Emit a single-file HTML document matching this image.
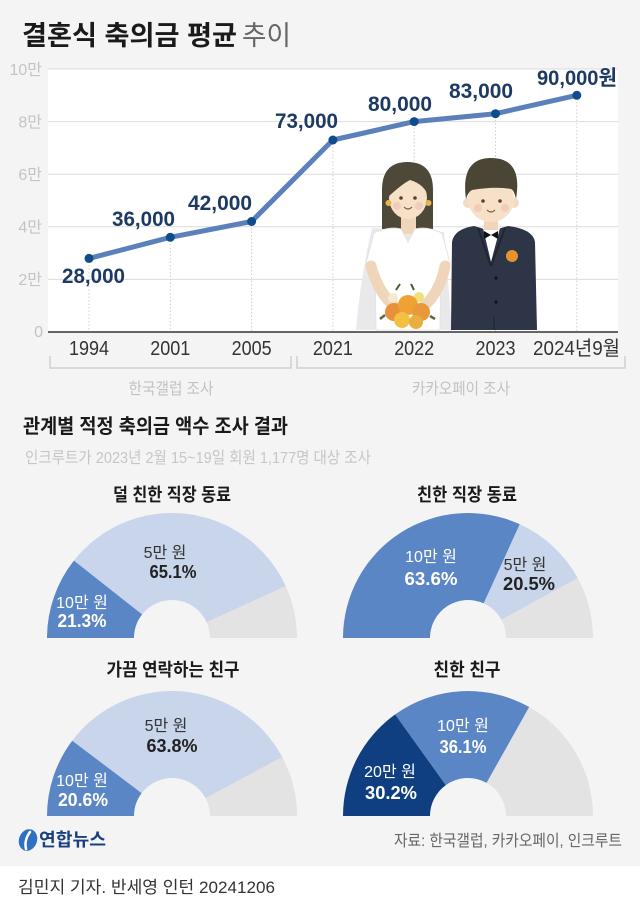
<!DOCTYPE html>
<html>
<head>
<meta charset="utf-8">
<style>
html,body{margin:0;padding:0;background:#f4f4f4;}
svg{display:block;}
text{font-family:"Liberation Sans","Noto Sans CJK KR",sans-serif;}
</style>
</head>
<body>
<svg width="640" height="906" viewBox="0 0 640 906" xmlns="http://www.w3.org/2000/svg">
<rect width="640" height="906" fill="#f4f4f4"/>
<rect x="0" y="866" width="640" height="40" fill="#ffffff"/>

<!-- Title -->
<text x="22" y="45" font-size="27" font-weight="bold" fill="#1a1a1a" textLength="215" lengthAdjust="spacingAndGlyphs">결혼식 축의금 평균</text>
<text x="242" y="45" font-size="27" fill="#666" textLength="49" lengthAdjust="spacingAndGlyphs">추이</text>

<!-- plot area -->
<rect x="48" y="69" width="570" height="263" fill="#ffffff"/>
<g stroke="#dcdcdc" stroke-width="1">
<line x1="48" y1="69" x2="618" y2="69"/>
<line x1="48" y1="121.6" x2="618" y2="121.6"/>
<line x1="48" y1="174.2" x2="618" y2="174.2"/>
<line x1="48" y1="226.8" x2="618" y2="226.8"/>
<line x1="48" y1="279.4" x2="618" y2="279.4"/>
</g>
<g font-size="16" fill="#c4c4c4" text-anchor="end">
<text x="42" y="75">10만</text>
<text x="42" y="127.5">8만</text>
<text x="42" y="180">6만</text>
<text x="42" y="232.5">4만</text>
<text x="42" y="285">2만</text>
<text x="43" y="337">0</text>
</g>
<!-- dotted verticals -->
<g stroke="#cfcfcf" stroke-width="1" stroke-dasharray="1.5 2">
<line x1="89" y1="258" x2="89" y2="332"/>
<line x1="170.3" y1="237" x2="170.3" y2="332"/>
<line x1="251.6" y1="221" x2="251.6" y2="332"/>
<line x1="332.9" y1="140" x2="332.9" y2="332"/>
<line x1="414.2" y1="121" x2="414.2" y2="332"/>
<line x1="495.5" y1="113" x2="495.5" y2="332"/>
<line x1="576.8" y1="95" x2="576.8" y2="332"/>
</g>

<!-- Illustration -->
<g>
<!-- bride veil -->
<path d="M372,228 Q360,280 356,330 L452,330 Q448,280 444,232 Z" fill="#e9e9ec"/>
<!-- bride hair back -->
<path d="M382,229 L382,190 Q382,162 407.5,162 Q433,162 433,190 L433,229 Z" fill="#4d4838"/>
<!-- neck -->
<rect x="401" y="212" width="15" height="22" fill="#efd6bb"/>
<!-- face -->
<ellipse cx="408" cy="198" rx="19" ry="21" fill="#f6e1c8"/>
<path d="M388,197 Q388,172 408,172 Q428,172 429,197 Q424,184 410,180 Q402,184 388,197 Z" fill="#4d4838"/>
<circle cx="388.5" cy="203" r="3" fill="#e6b64a"/>
<circle cx="428.5" cy="203" r="3" fill="#e6b64a"/>
<circle cx="401" cy="198" r="1.8" fill="#5a4030"/>
<circle cx="415" cy="198" r="1.8" fill="#5a4030"/>
<circle cx="397" cy="206" r="4" fill="#f1c6b6" opacity="0.8"/>
<circle cx="419" cy="206" r="4" fill="#f1c6b6" opacity="0.8"/>
<path d="M404,207 Q408,211 412,207" stroke="#8a5a40" stroke-width="1.2" fill="none"/>
<!-- dress -->
<path d="M374,233 Q390,226 401,229 L408,242 L415,229 Q427,226 442,233 L450,263 L441,272 L440,330 L376,330 L375,272 L366,263 Z" fill="#ffffff" stroke="#e4e4e4" stroke-width="1"/>
<!-- arms -->
<path d="M371,266 Q378,292 394,306" stroke="#efd6bb" stroke-width="11" stroke-linecap="round" fill="none"/>
<path d="M445,266 Q440,292 424,306" stroke="#efd6bb" stroke-width="11" stroke-linecap="round" fill="none"/>
<!-- bouquet -->
<circle cx="393" cy="298" r="5" fill="#f4ead0"/>
<circle cx="419" cy="297" r="5" fill="#efe07a"/>
<path d="M396,290 l4,-6 M414,290 l-3,-6" stroke="#4a5a3a" stroke-width="2"/>
<circle cx="394" cy="312" r="9" fill="#e8903a"/>
<circle cx="408" cy="305" r="10" fill="#efa233"/>
<circle cx="421" cy="312" r="9" fill="#e89a3a"/>
<circle cx="402" cy="320" r="8" fill="#f3c142"/>
<circle cx="416" cy="322" r="7" fill="#e8ae3e"/>
<path d="M385,315 l-5,4 M430,316 l5,3" stroke="#5a6a40" stroke-width="2.5"/>

<!-- groom suit -->
<path d="M452,242 Q454,229 474,226 L491,231 L508,226 Q533,229 535,242 L537,330 L451,330 Z" fill="#2e3547"/>
<path d="M483,228 L491,262 L500,228 Z" fill="#ffffff"/>
<path d="M478,228 L491,266 M505,228 L491,266" stroke="#1f2533" stroke-width="2" fill="none"/>
<path d="M484,231 L491,235 L484,239 Z M498,231 L491,235 L498,239 Z" fill="#111"/>
<circle cx="512" cy="256" r="6" fill="#e8922e"/>
<circle cx="496" cy="278" r="1.5" fill="#111"/>
<circle cx="496" cy="302" r="1.5" fill="#111"/>
<line x1="494" y1="316" x2="494" y2="330" stroke="#222a38" stroke-width="1.5"/>
<!-- groom neck/face -->
<rect x="484" y="214" width="14" height="16" fill="#efd6bb"/>
<circle cx="468" cy="203" r="5" fill="#f3dcc2"/>
<circle cx="514" cy="203" r="5" fill="#f3dcc2"/>
<ellipse cx="491" cy="199" rx="23" ry="23" fill="#f6e1c8"/>
<path d="M466,199 C462,170 472,158 491,158 C511,158 521,170 516,199 Q514,190 511,189 Q495,186 472,190 Q468,192 466,199 Z" fill="#4a4535"/>
<circle cx="483" cy="201" r="1.8" fill="#5a4030"/>
<circle cx="500" cy="201" r="1.8" fill="#5a4030"/>
<circle cx="478" cy="208" r="4" fill="#f1c6b6" opacity="0.8"/>
<circle cx="505" cy="208" r="4" fill="#f1c6b6" opacity="0.8"/>
<path d="M487,210 Q491,214 495,210" stroke="#8a5a40" stroke-width="1.2" fill="none"/>
</g>

<!-- baseline -->
<line x1="48" y1="332" x2="618" y2="332" stroke="#333" stroke-width="1.5"/>

<!-- line series -->
<polyline points="89,258.4 170.3,237.3 251.6,221.5 332.9,140 414.2,121.6 495.5,113.7 576.8,95.3" fill="none" stroke="#5c80b9" stroke-width="5" stroke-linejoin="round" stroke-linecap="round"/>
<g fill="#0e4c8c">
<circle cx="89" cy="258.4" r="4.5"/>
<circle cx="170.3" cy="237.3" r="4.5"/>
<circle cx="251.6" cy="221.5" r="4.5"/>
<circle cx="332.9" cy="140" r="4.5"/>
<circle cx="414.2" cy="121.6" r="4.5"/>
<circle cx="495.5" cy="113.7" r="4.5"/>
<circle cx="576.8" cy="95.3" r="4.5"/>
</g>
<g font-size="21" font-weight="bold" fill="#1d3a63">
<text x="62" y="283" textLength="63" lengthAdjust="spacingAndGlyphs">28,000</text>
<text x="112" y="226" textLength="63" lengthAdjust="spacingAndGlyphs">36,000</text>
<text x="188" y="210" textLength="64" lengthAdjust="spacingAndGlyphs">42,000</text>
<text x="275" y="128" textLength="63" lengthAdjust="spacingAndGlyphs">73,000</text>
<text x="368" y="111" textLength="64" lengthAdjust="spacingAndGlyphs">80,000</text>
<text x="449" y="98" textLength="64" lengthAdjust="spacingAndGlyphs">83,000</text>
<text x="537" y="85" textLength="80" lengthAdjust="spacingAndGlyphs">90,000원</text>
</g>

<!-- x labels -->
<g font-size="20" fill="#333" text-anchor="middle">
<text x="89" y="355" textLength="40" lengthAdjust="spacingAndGlyphs">1994</text>
<text x="170.3" y="355" textLength="40" lengthAdjust="spacingAndGlyphs">2001</text>
<text x="251.6" y="355" textLength="40" lengthAdjust="spacingAndGlyphs">2005</text>
<text x="332.9" y="355" textLength="40" lengthAdjust="spacingAndGlyphs">2021</text>
<text x="414.2" y="355" textLength="40" lengthAdjust="spacingAndGlyphs">2022</text>
<text x="495.5" y="355" textLength="40" lengthAdjust="spacingAndGlyphs">2023</text>
<text x="576.5" y="355" textLength="87" lengthAdjust="spacingAndGlyphs">2024년9월</text>
</g>
<!-- brackets -->
<path d="M50,356 V368 H291 V356" fill="none" stroke="#cfcfcf" stroke-width="1.5"/>
<path d="M297,356 V368 H625 V356" fill="none" stroke="#cfcfcf" stroke-width="1.5"/>
<g font-size="16" fill="#c2c2c2" text-anchor="middle">
<text x="171" y="394" textLength="85" lengthAdjust="spacingAndGlyphs">한국갤럽 조사</text>
<text x="461" y="394" textLength="98" lengthAdjust="spacingAndGlyphs">카카오페이 조사</text>
</g>

<!-- section 2 heading -->
<text x="23" y="433" font-size="20" font-weight="bold" fill="#1a1a1a" textLength="265" lengthAdjust="spacingAndGlyphs">관계별 적정 축의금 액수 조사 결과</text>
<text x="25" y="463" font-size="16" fill="#c6c6c6" textLength="346" lengthAdjust="spacingAndGlyphs">인크루트가 2023년 2월 15~19일 회원 1,177명 대상 조사</text>

<!-- Donut A -->
<text x="172" y="501" font-size="18" font-weight="bold" fill="#1a1a1a" text-anchor="middle" textLength="118" lengthAdjust="spacingAndGlyphs">덜 친한 직장 동료</text>
<path d="M47,638 A125,125 0 0 1 73.96,560.46 L142.2,614.43 A38,38 0 0 0 134,638 Z" fill="#5b86c5"/>
<path d="M73.96,560.46 A125,125 0 0 1 285.75,586.21 L206.58,622.26 A38,38 0 0 0 142.2,614.43 Z" fill="#c8d5eb"/>
<path d="M285.75,586.21 A125,125 0 0 1 297,638 L210,638 A38,38 0 0 0 206.58,622.26 Z" fill="#e3e3e3"/>
<text x="165" y="558" font-size="16" fill="#333" text-anchor="middle">5만 원</text>
<text x="173" y="578" font-size="18" font-weight="bold" fill="#222" text-anchor="middle" textLength="47" lengthAdjust="spacingAndGlyphs">65.1%</text>
<text x="82" y="608" font-size="16" fill="#fff" text-anchor="middle">10만 원</text>
<text x="82" y="627" font-size="18" font-weight="bold" fill="#fff" text-anchor="middle" textLength="49" lengthAdjust="spacingAndGlyphs">21.3%</text>

<!-- Donut B -->
<text x="467" y="501" font-size="18" font-weight="bold" fill="#1a1a1a" text-anchor="middle" textLength="100" lengthAdjust="spacingAndGlyphs">친한 직장 동료</text>
<path d="M343,638 A125,125 0 0 1 519.79,524.25 L483.74,603.42 A38,38 0 0 0 430,638 Z" fill="#5b86c5"/>
<path d="M519.79,524.25 A125,125 0 0 1 577.73,578.12 L501.36,619.8 A38,38 0 0 0 483.74,603.42 Z" fill="#c8d5eb"/>
<path d="M577.73,578.12 A125,125 0 0 1 593,638 L506,638 A38,38 0 0 0 501.36,619.8 Z" fill="#e3e3e3"/>
<text x="431" y="562" font-size="16" fill="#fff" text-anchor="middle">10만 원</text>
<text x="431" y="585" font-size="18" font-weight="bold" fill="#fff" text-anchor="middle" textLength="53" lengthAdjust="spacingAndGlyphs">63.6%</text>
<text x="525" y="570" font-size="16" fill="#333" text-anchor="middle">5만 원</text>
<text x="529" y="590" font-size="18" font-weight="bold" fill="#222" text-anchor="middle" textLength="52" lengthAdjust="spacingAndGlyphs">20.5%</text>

<!-- Donut C -->
<text x="173" y="676" font-size="18" font-weight="bold" fill="#1a1a1a" text-anchor="middle" textLength="133" lengthAdjust="spacingAndGlyphs">가끔 연락하는 친구</text>
<path d="M47,816 A125,125 0 0 1 72.27,740.64 L141.68,793.09 A38,38 0 0 0 134,816 Z" fill="#5b86c5"/>
<path d="M72.27,740.64 A125,125 0 0 1 282.28,757.16 L205.52,798.11 A38,38 0 0 0 141.68,793.09 Z" fill="#c8d5eb"/>
<path d="M282.28,757.16 A125,125 0 0 1 297,816 L210,816 A38,38 0 0 0 205.52,798.11 Z" fill="#e3e3e3"/>
<text x="166" y="731" font-size="16" fill="#333" text-anchor="middle">5만 원</text>
<text x="172" y="752" font-size="18" font-weight="bold" fill="#222" text-anchor="middle" textLength="51" lengthAdjust="spacingAndGlyphs">63.8%</text>
<text x="82" y="786" font-size="16" fill="#fff" text-anchor="middle">10만 원</text>
<text x="83" y="806" font-size="18" font-weight="bold" fill="#fff" text-anchor="middle" textLength="50" lengthAdjust="spacingAndGlyphs">20.6%</text>

<!-- Donut D -->
<text x="467" y="676" font-size="18" font-weight="bold" fill="#1a1a1a" text-anchor="middle" textLength="67" lengthAdjust="spacingAndGlyphs">친한 친구</text>
<path d="M343,816 A125,125 0 0 1 395.16,714.41 L445.86,785.12 A38,38 0 0 0 430,816 Z" fill="#0f3f80"/>
<path d="M395.16,714.41 A125,125 0 0 1 529.25,707.04 L486.62,782.88 A38,38 0 0 0 445.86,785.12 Z" fill="#5b86c5"/>
<path d="M529.25,707.04 A125,125 0 0 1 593,816 L506,816 A38,38 0 0 0 486.62,782.88 Z" fill="#e3e3e3"/>
<text x="463" y="731" font-size="16" fill="#fff" text-anchor="middle">10만 원</text>
<text x="463" y="753" font-size="18" font-weight="bold" fill="#fff" text-anchor="middle" textLength="47" lengthAdjust="spacingAndGlyphs">36.1%</text>
<text x="390" y="777" font-size="16" fill="#fff" text-anchor="middle">20만 원</text>
<text x="391" y="799" font-size="18" font-weight="bold" fill="#fff" text-anchor="middle" textLength="52" lengthAdjust="spacingAndGlyphs">30.2%</text>

<!-- footer logo -->
<ellipse cx="28" cy="840" rx="9" ry="11" fill="#2f6fc4" transform="rotate(20 28 840)"/>
<path d="M30,832 Q24,840 26,849" stroke="#ffffff" stroke-width="2.5" fill="none" stroke-linecap="round"/>
<text x="39" y="846" font-size="18" font-weight="bold" fill="#1b3f7e" textLength="67" lengthAdjust="spacingAndGlyphs">연합뉴스</text>
<text x="622" y="846" font-size="16" fill="#666" text-anchor="end" textLength="228" lengthAdjust="spacingAndGlyphs">자료: 한국갤럽, 카카오페이, 인크루트</text>

<!-- credit -->
<text x="18" y="893" font-size="17" fill="#333" textLength="257" lengthAdjust="spacingAndGlyphs">김민지 기자. 반세영 인턴  20241206</text>
</svg>
</body>
</html>
